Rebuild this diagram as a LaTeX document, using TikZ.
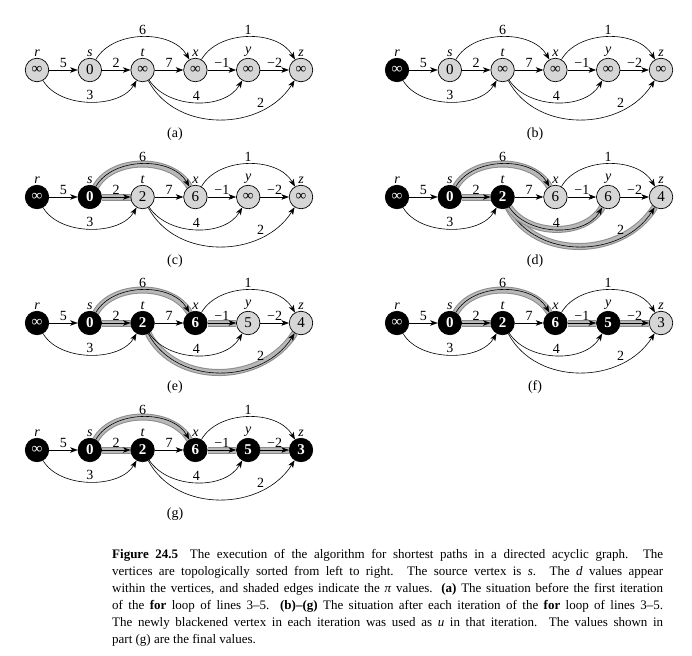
\documentclass[tikz,border=0pt]{standalone}
\usepackage{fontspec}
\setmainfont{Liberation Serif}
\usetikzlibrary{arrows.meta,backgrounds}
\tikzset{
  vtx/.style={circle, draw=black, line width=0.7pt, minimum size=23.5pt, inner sep=0pt, font=\fontsize{15}{15}\selectfont},
  gv/.style={vtx, fill=black!16},
  bv/.style={vtx, fill=black, text=white, font=\fontsize{15}{15}\selectfont\bfseries},
  vname/.style={font=\fontsize{14}{14}\selectfont\itshape, inner sep=1pt},
  edge/.style={-{Stealth[length=7.5pt,width=5.5pt,inset=2pt]}, line width=0.6pt},
  wt/.style={font=\fontsize{14}{14}\selectfont, inner sep=2pt},
  plab/.style={font=\fontsize{14}{14}\selectfont},
  shaded/.style={preaction={draw=black!45, line width=7pt, arrows=-}, preaction={draw=black!28, line width=5pt, arrows=-}},
  ers/.style={}, est/.style={}, etx/.style={}, exy/.style={}, eyz/.style={},
  esx/.style={}, exz/.style={}, ert/.style={}, ety/.style={}, etz/.style={},
}
\newcommand\dagpanel[6]{%
\begin{scope}[shift={(#2,-#3)}, #5]
  \foreach \nm/\st/\val [count=\k from 0] in {#4} {
    \node[\st, label={[vname]90:\nm}] (#1\nm) at (\k*52.8,0) {\val};
  }
  \node[plab] (#1lab) at (138,-64) {(#6)};
  \begin{scope}[on background layer]
    \draw[edge,ers] (#1r) -- node[wt,above]{5} (#1s);
    \draw[edge,est] (#1s) -- node[wt,above]{2} (#1t);
    \draw[edge,etx] (#1t) -- node[wt,above]{7} (#1x);
    \draw[edge,exy] (#1x) -- node[wt,above]{−1} (#1y);
    \draw[edge,eyz] (#1y) -- node[wt,above]{−2} (#1z);
    \draw[edge,esx] (#1s) to[out=60,in=120,looseness=0.95] node[wt,midway,above]{6} (#1x);
    \draw[edge,exz] (#1x) to[out=60,in=120,looseness=0.95] node[wt,midway,above]{1} (#1z);
    \draw[edge,ert] (#1r) to[out=-60,in=-120,looseness=0.9] node[wt,midway,above]{3} (#1t);
    \draw[edge,etz] (#1t) to[out=-62,in=-122,looseness=1.05] node[wt,pos=0.74,above]{2} (#1z);
    \draw[edge,ety] (#1t) to[out=-57,in=-120,looseness=0.95] node[wt,midway,above]{4} (#1y);
  \end{scope}
\end{scope}}

\begin{document}
\begin{tikzpicture}[x=1pt,y=1pt]
\useasboundingbox (0,0) rectangle (692,-655);

\dagpanel{a}{37}{70}{r/gv/∞, s/gv/0, t/gv/∞, x/gv/∞, y/gv/∞, z/gv/∞}{}{a}
\dagpanel{b}{397}{70}{r/bv/∞, s/gv/0, t/gv/∞, x/gv/∞, y/gv/∞, z/gv/∞}{}{b}
\dagpanel{c}{37}{197}{r/bv/∞, s/bv/0, t/gv/2, x/gv/6, y/gv/∞, z/gv/∞}{est/.style=shaded, esx/.style=shaded}{c}
\dagpanel{d}{397}{197}{r/bv/∞, s/bv/0, t/bv/2, x/gv/6, y/gv/6, z/gv/4}{est/.style=shaded, esx/.style=shaded, ety/.style=shaded, etz/.style=shaded}{d}
\dagpanel{e}{37}{323}{r/bv/∞, s/bv/0, t/bv/2, x/bv/6, y/gv/5, z/gv/4}{est/.style=shaded, esx/.style=shaded, exy/.style=shaded, etz/.style=shaded}{e}
\dagpanel{f}{397}{323}{r/bv/∞, s/bv/0, t/bv/2, x/bv/6, y/bv/5, z/gv/3}{est/.style=shaded, esx/.style=shaded, exy/.style=shaded, eyz/.style=shaded}{f}
\dagpanel{g}{37}{450}{r/bv/∞, s/bv/0, t/bv/2, x/bv/6, y/bv/5, z/bv/3}{est/.style=shaded, esx/.style=shaded, exy/.style=shaded, eyz/.style=shaded}{g}

\node[anchor=north west, inner sep=0pt, text width=551pt, align=justify,
      font=\fontsize{13}{17}\selectfont] (cap) at (112,-549) {%
\textbf{Figure 24.5}\hspace{0.9em}The execution of the algorithm for shortest paths in a directed acyclic graph. The\linebreak
vertices are topologically sorted from left to right. The source vertex is \textit{s}. The \textit{d} values appear\linebreak
within the vertices, and shaded edges indicate the \textit{π} values. \textbf{(a)} The situation before the first iteration\linebreak
of the \textbf{for} loop of lines 3–5. \textbf{(b)–(g)} The situation after each iteration of the \textbf{for} loop of lines 3–5.\linebreak
The newly blackened vertex in each iteration was used as \textit{u} in that iteration. The values shown in\linebreak
part (g) are the final values.\par};
\end{tikzpicture}
\end{document}
